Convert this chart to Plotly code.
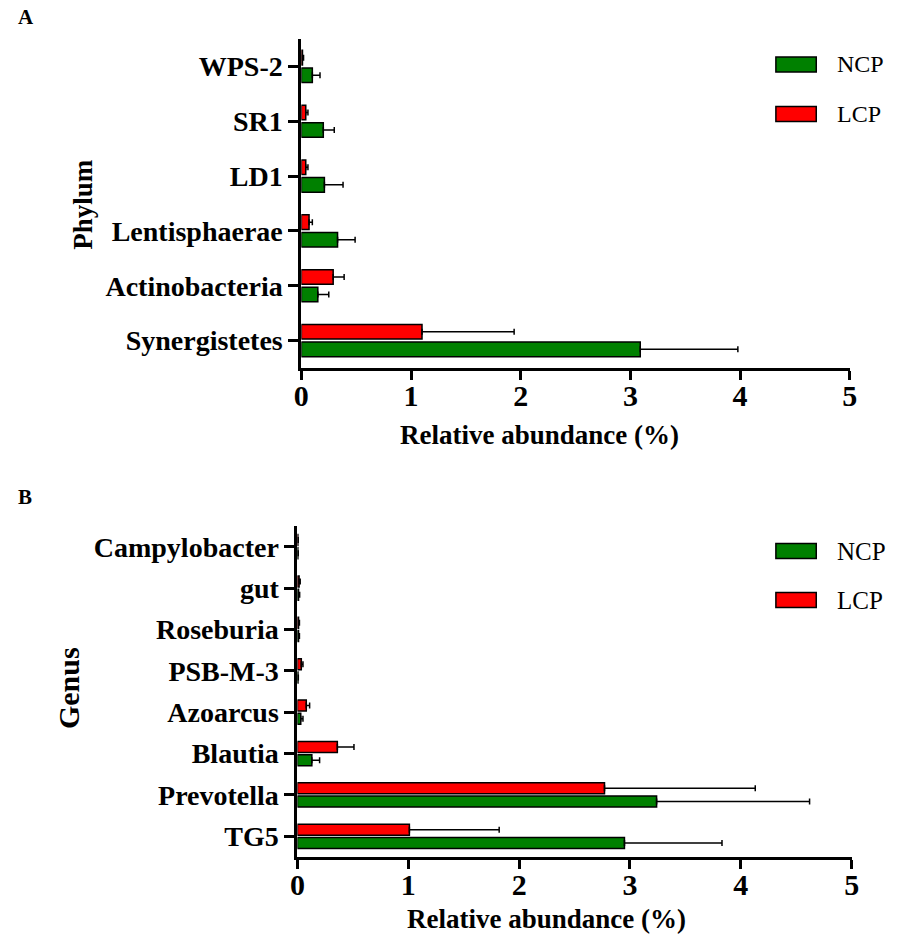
import plotly.graph_objects as go

# ---- Data ----
phylum = ["Synergistetes", "Actinobacteria", "Lentisphaerae", "LD1", "SR1", "WPS-2"]
phylum_ncp = [3.09, 0.15, 0.33, 0.21, 0.20, 0.10]
phylum_ncp_err = [0.89, 0.10, 0.16, 0.17, 0.10, 0.07]
phylum_lcp = [1.10, 0.29, 0.07, 0.04, 0.04, 0.01]
phylum_lcp_err = [0.84, 0.10, 0.03, 0.02, 0.02, 0.01]

genus = ["TG5", "Prevotella", "Blautia", "Azoarcus", "PSB-M-3", "Roseburia", "gut", "Campylobacter"]
genus_ncp = [2.95, 3.24, 0.13, 0.03, 0.005, 0.01, 0.01, 0.004]
genus_ncp_err = [0.88, 1.38, 0.07, 0.02, 0.003, 0.008, 0.01, 0.003]
genus_lcp = [1.01, 2.77, 0.36, 0.08, 0.035, 0.01, 0.015, 0.004]
genus_lcp_err = [0.81, 1.36, 0.15, 0.03, 0.015, 0.008, 0.01, 0.003]

x_ticks = [0, 1, 2, 3, 4, 5]
series_names = ["NCP", "LCP"]
colors = {"NCP": "#008000", "LCP": "#FF0000"}

W, H = 903, 936
FONT = "Liberation Serif"


def px(x):
    return x / W


def py(y):
    return 1 - y / H


fig = go.Figure()


def add_bars(cats, vals, errs, name, xa, ya):
    fig.add_trace(go.Bar(
        y=cats, x=vals, orientation="h", name=name,
        marker=dict(color=colors[name], line=dict(color="black", width=1.5)),
        error_x=dict(type="data", symmetric=False, array=errs,
                     arrayminus=[0] * len(errs), color="black",
                     thickness=1.5, width=3),
        xaxis=xa, yaxis=ya, showlegend=False,
    ))


add_bars(phylum, phylum_ncp, phylum_ncp_err, "NCP", "x", "y")
add_bars(phylum, phylum_lcp, phylum_lcp_err, "LCP", "x", "y")
add_bars(genus, genus_ncp, genus_ncp_err, "NCP", "x2", "y2")
add_bars(genus, genus_lcp, genus_lcp_err, "LCP", "x2", "y2")

tickfont_x = dict(family=FONT, size=30, color="black", weight="bold")
tickfont_y = dict(family=FONT, size=28, color="black", weight="bold")

xcommon = dict(range=[0, 5], tickvals=x_ticks, ticktext=[str(t) for t in x_ticks],
               showgrid=False, zeroline=False, showline=True, linecolor="black",
               linewidth=3, ticks="outside", ticklen=9, tickwidth=3,
               tickcolor="black", tickfont=tickfont_x, fixedrange=True,
               ticklabelstandoff=-10)
ycommon = dict(showgrid=False, zeroline=False, showline=True, linecolor="black",
               linewidth=3, ticks="outside", ticklen=10, tickwidth=3,
               tickcolor="black", tickfont=tickfont_y, type="category",
               fixedrange=True)

fig.update_layout(
    width=W, height=H,
    margin=dict(l=0, r=0, t=0, b=0),
    paper_bgcolor="white", plot_bgcolor="white",
    barmode="group", bargap=0.36, bargroupgap=0.17,
    xaxis=dict(domain=[px(299), px(856)], anchor="y", **xcommon),
    yaxis=dict(domain=[py(368), py(39)], anchor="x", **ycommon),
    xaxis2=dict(domain=[px(295), px(858)], anchor="y2", **xcommon),
    yaxis2=dict(domain=[py(857), py(526)], anchor="x2", **ycommon),
    showlegend=False,
)

title_font = dict(family=FONT, size=27, color="black", weight="bold")
ann = [
    dict(text="A", x=px(9), y=py(17), xanchor="left", yanchor="middle",
         font=dict(family=FONT, size=21, color="black", weight="bold")),
    dict(text="B", x=px(9), y=py(497), xanchor="left", yanchor="middle",
         font=dict(family=FONT, size=21, color="black", weight="bold")),
    dict(text="Relative abundance (%)", x=px(541), y=py(435), xanchor="center",
         yanchor="middle", font=title_font),
    dict(text="Relative abundance (%)", x=px(548), y=py(919), xanchor="center",
         yanchor="middle", font=title_font),
    dict(text="Phylum", x=px(77), y=py(204), xanchor="center", yanchor="middle",
         textangle=-90, font=title_font),
    dict(text="Genus", x=px(62), y=py(688), xanchor="center", yanchor="middle",
         textangle=-90, font=dict(family=FONT, size=30, color="black", weight="bold")),
]

shapes = []
legend_rows = [
    ("NCP", 64.5, 24), ("LCP", 114, 24),
    ("NCP", 551, 25), ("LCP", 600, 25),
]
for name, yc, fs in legend_rows:
    shapes.append(dict(type="rect", xref="paper", yref="paper",
                       x0=px(781), x1=px(822), y0=py(yc + 7.5), y1=py(yc - 7.5),
                       fillcolor=colors[name], line=dict(color="black", width=1.5)))
    ann.append(dict(text=name, x=px(841), y=py(yc), xanchor="left", yanchor="middle",
                    font=dict(family=FONT, size=fs, color="black")))

for a in ann:
    a.update(xref="paper", yref="paper", showarrow=False)

fig.update_layout(annotations=ann, shapes=shapes)

fig.write_html("out.html", config={"displayModeBar": False},
               post_script="document.body.style.margin='0';")
